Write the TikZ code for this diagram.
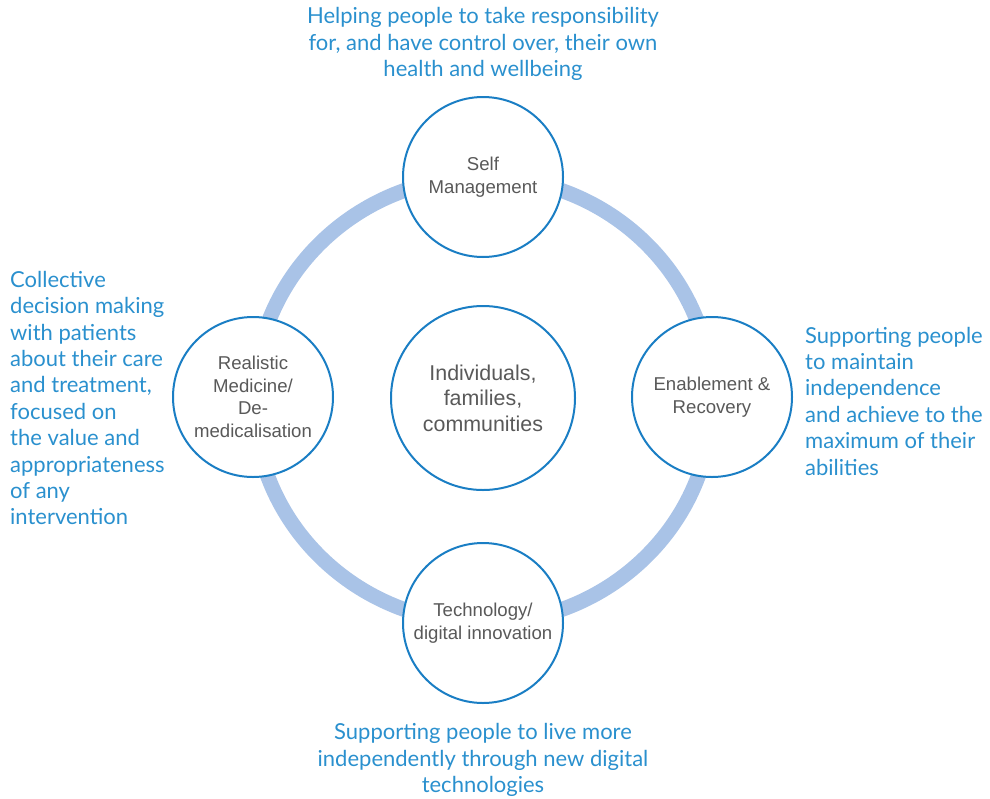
\documentclass[tikz,border=0pt]{standalone}
\usepackage{fontspec}
\setmainfont{Liberation Sans}
\newfontfamily\notefont{Lato}
\usepackage{tikz}
\usetikzlibrary{positioning}

\definecolor{ringblue}{HTML}{A9C3E7}
\definecolor{edgeblue}{HTML}{1A7EC4}
\definecolor{noteblue}{HTML}{2A90CE}
\definecolor{labelgrey}{HTML}{595959}

\begin{document}
\begin{tikzpicture}[x=1pt, y=-1pt,
    pillar/.style={circle, draw=edgeblue, line width=2pt, fill=white,
      minimum size=160pt, inner sep=0pt, align=center, text=labelgrey,
      font=\fontsize{18.6}{22.5}\selectfont},
    core/.style={pillar, minimum size=184pt, font=\fontsize{21.4}{25.5}\selectfont},
    note/.style={text=noteblue, font=\notefont\fontsize{22}{26.4}\selectfont, inner sep=0pt}]
        \useasboundingbox (0, 0) rectangle (990, 798);

        \coordinate (hub) at (483, 400);
        \draw[ringblue, line width=15pt] (hub) circle [x radius=229pt, y radius=223pt];

        \node[core] (people) at (483, 398) {Individuals,\\families,\\communities};

        \node[pillar] (self) at (483, 177) {Self\\Management};
        \node[pillar] (enable) at (712, 397) {Enablement \&\\Recovery};
        \node[pillar] (tech) at (483, 623) {Technology/\\digital innovation};
        \node[pillar] (realistic) at (253, 397) {Realistic\\Medicine/\\De-\\medicalisation};

        \node[note, align=center] (selfnote) at (483, 44)
          {Helping people to take responsibility\\for, and have control over, their own\\health and wellbeing};
        \node[note, align=left, anchor=west] (enablenote) at (805, 401)
          {Supporting people\\to maintain\\independence\\and achieve to the\\maximum of their\\abilities};
        \node[note, align=center] (technote) at (483, 760)
          {Supporting people to live more\\independently through new digital\\technologies};
        \node[note, align=left, anchor=west] (realisticnote) at (10, 398)
          {Collective\\decision making\\with patients\\about their care\\and treatment,\\focused on\\the value and\\appropriateness\\of any\\intervention};
      \end{tikzpicture}
\end{document}
